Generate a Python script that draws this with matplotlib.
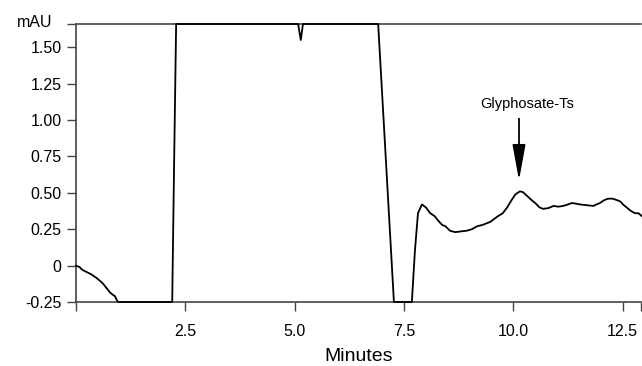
import matplotlib
matplotlib.use("Agg")
import matplotlib.pyplot as plt

plt.rcParams['font.family'] = ['Liberation Sans', 'DejaVu Sans']

Y_TOP = 1.66
X_MAX = 12.92

minutes = [0.0, 0.08, 0.15, 0.25, 0.35, 0.47, 0.55, 0.62, 0.70, 0.78, 0.84, 0.89, 0.93, 0.96,
           2.20, 2.24, 2.29,
           5.08, 5.14, 5.19,
           6.91, 7.27, 7.68,
           7.75, 7.82, 7.91, 8.0, 8.1, 8.2, 8.28, 8.37, 8.45, 8.55, 8.67, 8.8, 8.94,
           9.05, 9.17, 9.3, 9.47, 9.56, 9.65, 9.76, 9.86, 9.96, 10.05, 10.15, 10.22,
           10.31, 10.4, 10.5, 10.6, 10.68, 10.8, 10.92, 11.03, 11.14, 11.25, 11.34,
           11.45, 11.53, 11.68, 11.83, 11.9, 11.98, 12.08, 12.17, 12.27, 12.37,
           12.45, 12.51, 12.59, 12.67, 12.72, 12.78, 12.86, 12.94]
mau = [0.0, -0.01, -0.03, -0.045, -0.06, -0.085, -0.105, -0.125, -0.155, -0.185, -0.2, -0.21, -0.235, -0.25,
       -0.25, 0.63, Y_TOP,
       Y_TOP, 1.55, Y_TOP,
       Y_TOP, -0.25, -0.25,
       0.10, 0.36, 0.42, 0.40, 0.36, 0.34, 0.31, 0.28, 0.27, 0.24, 0.23, 0.235, 0.24,
       0.25, 0.27, 0.28, 0.30, 0.32, 0.34, 0.36, 0.40, 0.45, 0.49, 0.51, 0.505,
       0.48, 0.455, 0.43, 0.40, 0.39, 0.395, 0.41, 0.405, 0.41, 0.42, 0.43,
       0.425, 0.42, 0.415, 0.41, 0.42, 0.43, 0.45, 0.46, 0.46, 0.45,
       0.44, 0.42, 0.40, 0.38, 0.37, 0.36, 0.36, 0.34]

xticks = [0, 2.5, 5.0, 7.5, 10.0, 12.5, X_MAX]
xticklabels = ["", "2.5", "5.0", "7.5", "10.0", "12.5", ""]
yticks = [-0.25, 0, 0.25, 0.50, 0.75, 1.00, 1.25, 1.50, Y_TOP]
yticklabels = ["-0.25", "0", "0.25", "0.50", "0.75", "1.00", "1.25", "1.50", ""]

fig = plt.figure(figsize=(6.42, 3.66), dpi=100)
ax = fig.add_axes([76/642, 1 - 302/366, (641 - 76)/642, (302 - 24)/366])
ax.plot(minutes, mau, color='black', lw=1.3, clip_on=False, zorder=3)
ax.set_xlim(0, X_MAX)
ax.set_ylim(-0.25, Y_TOP)

ax.set_xticks(xticks)
ax.set_xticklabels(xticklabels)
ax.set_yticks(yticks)
ax.set_yticklabels(yticklabels)
spine_col = '#444444'
for s in ['left', 'bottom', 'top']:
    ax.spines[s].set_color(spine_col)
    ax.spines[s].set_linewidth(1.2)
ax.spines['right'].set_visible(False)
ax.tick_params(axis='both', direction='out', length=6.5, width=1.0, color=spine_col,
               labelsize=11.5)
ax.tick_params(axis='y', pad=4)
ax.tick_params(axis='x', pad=9.5)
ax.set_xlabel("Minutes", fontsize=14, labelpad=6)
ax.text(52, 366 - 22.5, "mAU", transform=None, ha='right', va='center', fontsize=11.5)

ax.annotate("", xy=(10.13, 0.585), xytext=(10.13, 1.01),
            arrowprops=dict(arrowstyle='-|>,head_length=2.2,head_width=0.4',
                            color='black', lw=1.3, shrinkA=0, shrinkB=0))
ax.text(10.31, 1.11, "Glyphosate-Ts", ha='center', va='center', fontsize=10.5)

fig.savefig("out.png", dpi=100)
